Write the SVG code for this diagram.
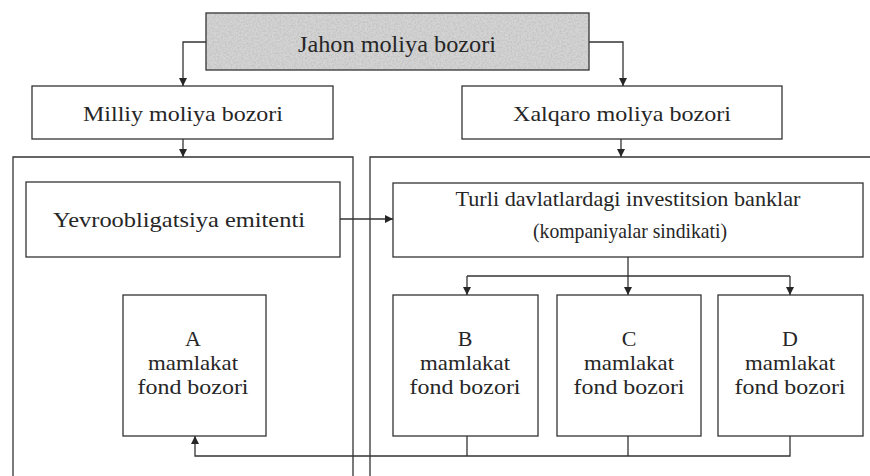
<svg xmlns="http://www.w3.org/2000/svg" width="870" height="476" viewBox="0 0 870 476">
<style>
.bx{fill:#ffffff;stroke:#333333;stroke-width:1.3}
.top{fill:#d4d4d4;stroke:#333333;stroke-width:1.3}
.cn{fill:none;stroke:#333333;stroke-width:1.3}
.ct{fill:none;stroke:#333333;stroke-width:1.3}
text{font-family:"Liberation Serif","Times New Roman",serif;font-size:22px;fill:#262626;text-anchor:middle}
.big{font-size:24px}
.sm{font-size:21px}
</style>
<defs>
<marker id="ah" viewBox="0 0 10 10" refX="10" refY="5" markerWidth="8" markerHeight="8" markerUnits="userSpaceOnUse" orient="auto">
<path d="M0,0 L10,5 L0,10 Z" fill="#262626"/>
</marker>
<filter id="grain" x="0" y="0" width="100%" height="100%">
<feTurbulence type="fractalNoise" baseFrequency="0.55" numOctaves="2" seed="7" result="n"/>
<feColorMatrix in="n" type="matrix" values="0 0 0 0 0.45  0 0 0 0 0.45  0 0 0 0 0.45  0 0 0 1.4 -0.5"/>
</filter>
</defs>
<rect width="870" height="476" fill="#ffffff"/>
<g id="containers">
<path class="ct" d="M13,476 V157 H353 V476"/>
<path class="ct" d="M370,476 V157 H870"/>
</g>
<g id="jahon">
<rect class="top" x="206" y="13" width="383" height="57"/>
<rect x="207" y="14" width="381" height="55" fill="#999999" filter="url(#grain)" opacity="0.8"/>
<text class="big" x="397" y="52" textLength="198" lengthAdjust="spacingAndGlyphs">Jahon moliya bozori</text>
</g>
<g id="milliy">
<rect class="bx" x="32" y="86" width="301" height="53"/>
<text x="183" y="121" textLength="200" lengthAdjust="spacingAndGlyphs">Milliy moliya bozori</text>
</g>
<g id="xalqaro">
<rect class="bx" x="462" y="86" width="320" height="53"/>
<text x="622" y="121" textLength="218" lengthAdjust="spacingAndGlyphs">Xalqaro moliya bozori</text>
</g>
<g id="yevro">
<rect class="bx" x="26" y="182" width="314" height="75"/>
<text x="179" y="227" textLength="252" lengthAdjust="spacingAndGlyphs">Yevroobligatsiya emitenti</text>
</g>
<g id="turli">
<rect class="bx" x="393" y="183" width="470" height="74"/>
<text class="sm" x="628" y="206" textLength="345" lengthAdjust="spacingAndGlyphs">Turli davlatlardagi investitsion banklar</text>
<text class="sm" x="630" y="238" textLength="194" lengthAdjust="spacingAndGlyphs">(kompaniyalar sindikati)</text>
</g>
<g id="a">
<rect class="bx" x="123" y="295" width="143" height="141"/>
<text x="193" y="346">A</text>
<text x="193" y="370" textLength="90" lengthAdjust="spacingAndGlyphs">mamlakat</text>
<text x="193" y="394" textLength="111" lengthAdjust="spacingAndGlyphs">fond bozori</text>
</g>
<g id="b">
<rect class="bx" x="393" y="295" width="145" height="141"/>
<text x="465" y="346">B</text>
<text x="465" y="370" textLength="90" lengthAdjust="spacingAndGlyphs">mamlakat</text>
<text x="465" y="394" textLength="111" lengthAdjust="spacingAndGlyphs">fond bozori</text>
</g>
<g id="c">
<rect class="bx" x="557" y="295" width="144" height="141"/>
<text x="629" y="346">C</text>
<text x="629" y="370" textLength="90" lengthAdjust="spacingAndGlyphs">mamlakat</text>
<text x="629" y="394" textLength="111" lengthAdjust="spacingAndGlyphs">fond bozori</text>
</g>
<g id="d">
<rect class="bx" x="718" y="295" width="145" height="141"/>
<text x="790" y="346">D</text>
<text x="790" y="370" textLength="90" lengthAdjust="spacingAndGlyphs">mamlakat</text>
<text x="790" y="394" textLength="111" lengthAdjust="spacingAndGlyphs">fond bozori</text>
</g>
<g id="connectors">
<path class="cn" d="M206,42 H183 V86" marker-end="url(#ah)"/>
<path class="cn" d="M589,42 H623 V86" marker-end="url(#ah)"/>
<path class="cn" d="M183,139 V157" marker-end="url(#ah)"/>
<path class="cn" d="M621,139 V157" marker-end="url(#ah)"/>
<path class="cn" d="M340,219 H393" marker-end="url(#ah)"/>
<path class="cn" d="M628,257 V276 M467,276 H790"/>
<path class="cn" d="M467,276 V295" marker-end="url(#ah)"/>
<path class="cn" d="M628,276 V295" marker-end="url(#ah)"/>
<path class="cn" d="M790,276 V295" marker-end="url(#ah)"/>
<path class="cn" d="M467,436 V456 M628,436 V456"/>
<path class="cn" d="M790,436 V456 H195 V436" marker-end="url(#ah)"/>
</g>
</svg>
